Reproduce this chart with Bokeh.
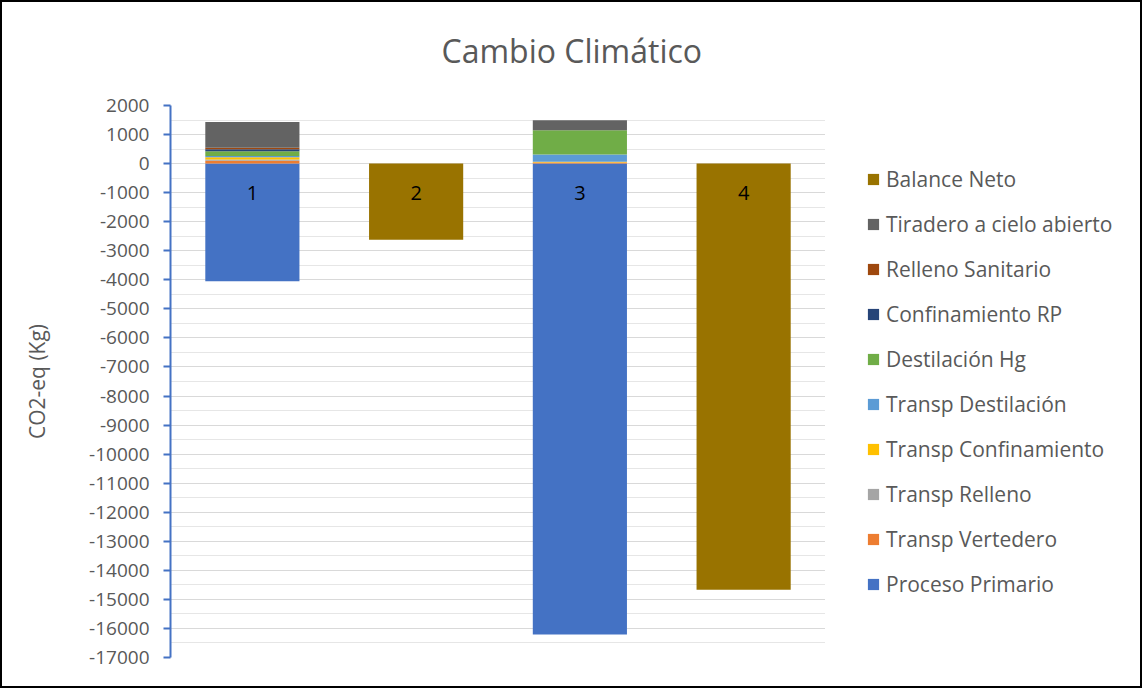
from bokeh.plotting import figure
from bokeh.layouts import row
from bokeh.models import (ColumnDataSource, Legend, LegendItem, FactorRange, Range1d,
                          SingleIntervalTicker, PrintfTickFormatter, Title)
from bokeh.core.properties import value
from bokeh.embed import file_html
from bokeh.resources import INLINE

categories = ["1", "2", "3", "4"]

proceso_primario = [-4050, 0, -16210, 0]
transp_vertedero = [95, 0, 35, 0]
transp_relleno = [45, 0, 0, 0]
transp_confinamiento = [75, 0, 30, 0]
transp_destilacion = [50, 0, 250, 0]
destilacion_hg = [160, 0, 830, 0]
confinamiento_rp = [70, 0, 0, 0]
relleno_sanitario = [55, 0, 0, 0]
tiradero = [880, 0, 345, 0]
balance_neto = [0, -2620, 0, -14670]

series = [
    ("Proceso Primario", proceso_primario, "#4472c4"),
    ("Transp Vertedero", transp_vertedero, "#ed7d31"),
    ("Transp Relleno", transp_relleno, "#a5a5a5"),
    ("Transp Confinamiento", transp_confinamiento, "#ffc000"),
    ("Transp Destilación", transp_destilacion, "#5b9bd5"),
    ("Destilación Hg", destilacion_hg, "#70ad47"),
    ("Confinamiento RP", confinamiento_rp, "#264478"),
    ("Relleno Sanitario", relleno_sanitario, "#9e480e"),
    ("Tiradero a cielo abierto", tiradero, "#636363"),
    ("Balance Neto", balance_neto, "#997300"),
]

FONT = "Open Sans"

p = figure(width=823, height=684, x_range=FactorRange(*categories),
           y_range=Range1d(-17000, 2000), output_backend="svg",
           toolbar_location=None, tools="", x_axis_location=None,
           min_border_left=168, min_border_right=0, min_border_top=103,
           min_border_bottom=29)

p.title.text = "Cambio Climático"
p.title.text_font = FONT
p.title.text_font_size = "32px"
p.title.text_font_style = "normal"
p.title.text_color = "#595959"
p.title.align = "left"
p.title.offset = 271
p.title.standoff = 0
# spacer below the title (keeps the title higher above the plot area)
p.add_layout(Title(text=" ", text_font=FONT, text_font_size="20px", standoff=5), "above")

p.outline_line_color = None
p.xgrid.grid_line_color = None
p.ygrid.grid_line_color = "#d9d9d9"
p.ygrid.grid_line_width = 1
p.ygrid.minor_grid_line_color = "#e6e6e6"
p.ygrid.minor_grid_line_width = 1

yax = p.yaxis[0]
yax.ticker = SingleIntervalTicker(interval=1000, num_minor_ticks=2)
yax.formatter = PrintfTickFormatter(format="%d")
yax.axis_line_color = "#4472c4"
yax.axis_line_width = 2
yax.major_tick_line_color = "#4472c4"
yax.major_tick_line_width = 2
yax.major_tick_out = 7
yax.major_tick_in = 0
yax.minor_tick_line_color = None
yax.major_label_text_font = FONT
yax.major_label_text_font_size = "19px"
yax.major_label_text_color = "#595959"
yax.major_label_standoff = 14
yax.axis_label = "CO2-eq (Kg)"
yax.axis_label_text_font = FONT
yax.axis_label_text_font_size = "21px"
yax.axis_label_text_font_style = "normal"
yax.axis_label_text_color = "#595959"
yax.axis_label_standoff = 35

pos_base = [0.0] * len(categories)
neg_base = [0.0] * len(categories)
for name, vals, color in series:
    bottoms, tops = [], []
    for i, v in enumerate(vals):
        if v >= 0:
            bottoms.append(pos_base[i]); tops.append(pos_base[i] + v); pos_base[i] += v
        else:
            bottoms.append(neg_base[i]); tops.append(neg_base[i] + v); neg_base[i] += v
    s = ColumnDataSource(dict(cat=categories, bottom=bottoms, top=tops))
    p.vbar(x="cat", bottom="bottom", top="top", width=0.575, source=s,
           fill_color=color, line_color=None)

# category labels at the zero line
lab = ColumnDataSource(dict(cat=categories, y=[0] * len(categories), t=categories))
p.text(x="cat", y="y", text="t", source=lab, text_font=value(FONT),
       text_font_size="20px", text_color="#000000", text_align="center",
       text_baseline="middle", y_offset=29)

# legend panel (its own figure; the series are drawn outside its visible range,
# only their legend swatches are shown)
pl = figure(width=315, height=684, output_backend="svg", toolbar_location=None,
            tools="", x_axis_location=None, y_axis_location=None,
            min_border=0, x_range=FactorRange(*categories),
            y_range=Range1d(2000, 3000))
pl.outline_line_color = None
pl.grid.grid_line_color = None
items = []
for name, vals, color in series:
    s = ColumnDataSource(dict(cat=categories, top=vals))
    r = pl.vbar(x="cat", top="top", width=0.0001, source=s, fill_color=color,
                line_color=None)
    items.append(LegendItem(label=name, renderers=[r]))

legend = Legend(items=list(reversed(items)), location=(41, 59))
legend.label_text_font = FONT
legend.label_text_font_size = "21px"
legend.label_text_color = "#595959"
legend.glyph_width = 14
legend.glyph_height = 14
legend.label_standoff = 6
legend.label_height = 22
legend.spacing = 17
legend.padding = 0
legend.margin = 0
legend.border_line_color = None
legend.background_fill_alpha = 0
pl.add_layout(legend, "center")

layout = row(p, pl, styles={"border": "2px solid black"})

open("out.html", "w").write(file_html(layout, INLINE))
